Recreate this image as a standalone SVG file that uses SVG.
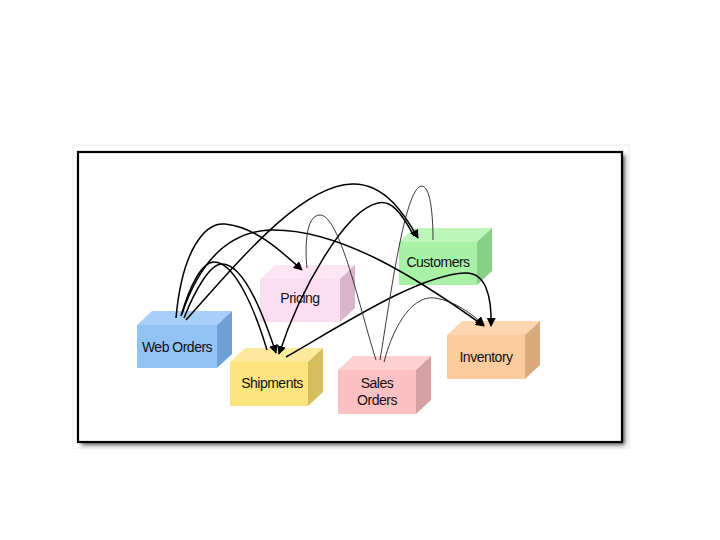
<svg xmlns="http://www.w3.org/2000/svg" width="720" height="540" viewBox="0 0 720 540">
<defs>
<filter id="sh" x="-5%" y="-5%" width="110%" height="110%"><feGaussianBlur stdDeviation="2"/></filter>
<marker id="ah" viewBox="0 0 10 10" refX="9" refY="5" markerWidth="9" markerHeight="9" markerUnits="userSpaceOnUse" orient="auto"><path d="M0,0 L10,5 L0,10 Z" fill="#000"/></marker>
</defs>
<style>
text{font-family:"Liberation Sans",Arial,sans-serif;font-size:14px;fill:#111;text-anchor:middle;letter-spacing:-0.5px}
.c{fill:none;stroke:#000;stroke-width:1.5}
.t{fill:none;stroke:#222;stroke-width:0.9}
.a{marker-end:url(#ah)}
</style>
<rect width="720" height="540" fill="#fff"/>
<rect x="73" y="145" width="556" height="303" fill="none" stroke="#ececec" stroke-width="1"/>
<rect x="81" y="155" width="544" height="290" fill="#555" filter="url(#sh)"/>
<rect x="78" y="152" width="544" height="290" fill="#fff" stroke="#000" stroke-width="2.2"/>

<g id="web-orders">
<rect x="137" y="325" width="80" height="43" fill="#90c2f6"/>
<polygon points="137,325 152,311 232,311 217,325" fill="#a7cff9"/>
<polygon points="217,325 232,311 232,354 217,368" fill="#6e9fd6"/>
<text x="177" y="352">Web Orders</text>
</g>
<g id="pricing">
<rect x="260" y="279" width="80" height="43" fill="#fcdcef"/>
<polygon points="260,279 275,265 355,265 340,279" fill="#fde5f3"/>
<polygon points="340,279 355,265 355,308 340,322" fill="#d8b5c8"/>
<text x="300" y="303">Pricing</text>
</g>
<g id="customers">
<rect x="399" y="242" width="78" height="43" fill="#a9f1a7"/>
<polygon points="399,242 414,228 492,228 477,242" fill="#bdf6bb"/>
<polygon points="477,242 492,228 492,271 477,285" fill="#87d186"/>
<text x="438" y="267">Customers</text>
</g>
<g id="shipments">
<rect x="230" y="362" width="78" height="44" fill="#fde47f"/>
<polygon points="230,362 245,348 323,348 308,362" fill="#feea9c"/>
<polygon points="308,362 323,348 323,392 308,406" fill="#d6bd5b"/>
<text x="272" y="388">Shipments</text>
</g>
<g id="sales-orders">
<rect x="338" y="370" width="78" height="44" fill="#fdc0c3"/>
<polygon points="338,370 353,356 431,356 416,370" fill="#fdd0d2"/>
<polygon points="416,370 431,356 431,400 416,414" fill="#d7a1a4"/>
<text x="377" y="388">Sales</text>
<text x="377" y="405">Orders</text>
</g>
<g id="inventory">
<rect x="447" y="335" width="78" height="44" fill="#fdca9b"/>
<polygon points="447,335 462,321 540,321 525,335" fill="#fdd6b0"/>
<polygon points="525,335 540,321 540,365 525,379" fill="#d9a97c"/>
<text x="486" y="362">Inventory</text>
</g>

<g id="connectors">
<path class="c a" d="M176,318 C182,250 205,222 225,224 C255,227 280,250 302,270"/>
<path class="c" d="M181,316 C190,285 202,262 214,262 C235,262 255,310 267,350"/>
<path class="c a" d="M184,318 C195,290 210,264 222,264 C245,264 265,320 276,353"/>
<path class="c a" d="M182,314 C200,260 230,232 270,230 C340,228 420,280 484,326"/>
<path class="c a" d="M186,320 C240,260 300,186 352,184 C385,183 405,215 418,238"/>
<path class="c a" d="M414,236 C400,210 390,200 378,203 C345,210 300,290 279,354"/>
<path class="c a" d="M286,357 C350,320 420,275 465,273 C485,272 492,295 491,326"/>
<path class="t" d="M376,360 C360,310 340,215 320,215 C305,215 305,250 307,268"/>
<path class="t" d="M380,360 C390,300 405,185 422,186 C432,187 433,225 433,240"/>
<path class="t a" d="M384,362 C395,320 415,295 435,298 C455,301 472,314 484,325"/>
</g>
</svg>
